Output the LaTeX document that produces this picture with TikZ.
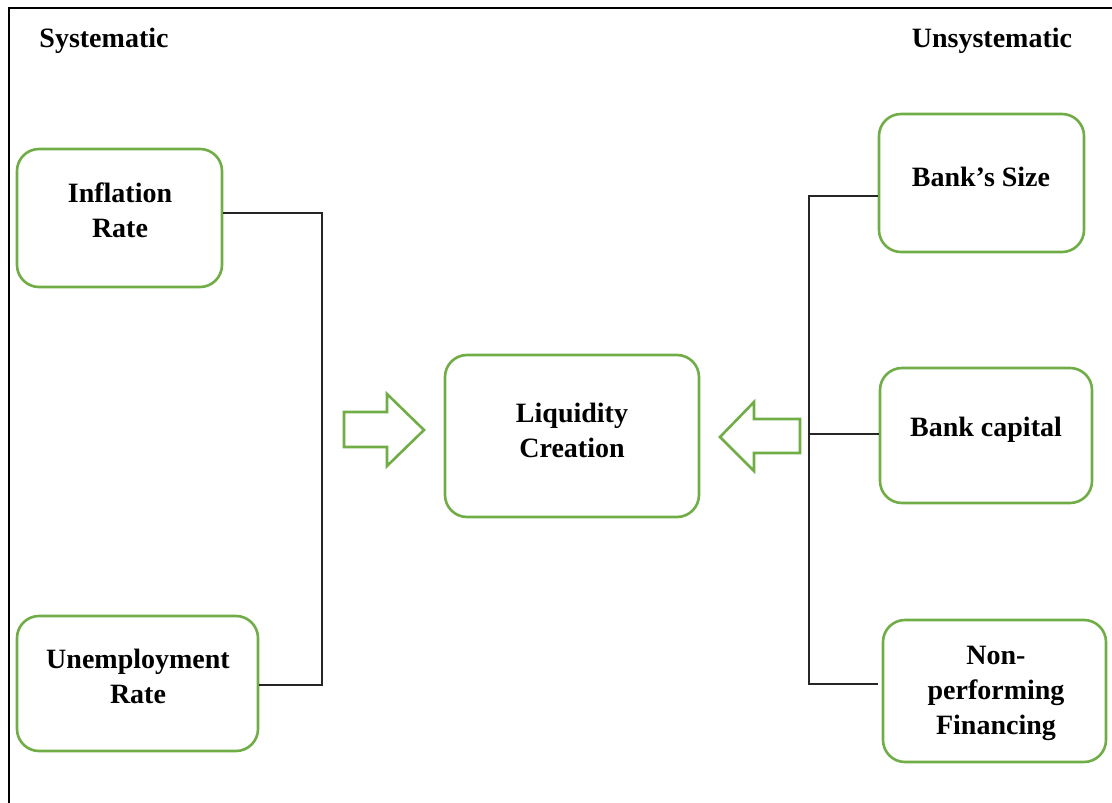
\documentclass[tikz,border=0pt]{standalone}
\usepackage{fontspec}
\setmainfont{Liberation Serif}
\definecolor{boxgreen}{RGB}{112,173,71}
\begin{document}
\begin{tikzpicture}[x=1pt,y=-1pt,
  box/.style={draw=boxgreen,line width=2.6pt,rounded corners=22pt,inner sep=0pt},
  lbl/.style={font=\fontsize{28}{35}\selectfont\bfseries,align=center,inner sep=0pt},
  conn/.style={line width=1.3pt,black!85},
  bigarrow/.style={draw=boxgreen,line width=2.6pt,fill=white,line join=miter}]
\useasboundingbox (0,0) rectangle (1112,803);
\draw[line width=2pt] (8.5,803) -- (8.5,8) -- (1112,8);

\node[lbl] (sys) at (104,41) {Systematic};
\node[lbl] (unsys) at (992,41) {Unsystematic};

\node[box,minimum width=205pt,minimum height=138pt] (inf) at (119.5,218) {};
\node[box,minimum width=241pt,minimum height=135pt] (unemp) at (137.5,683.5) {};
\node[box,minimum width=254pt,minimum height=162pt] (liq) at (572,436) {};
\node[box,minimum width=205pt,minimum height=138pt] (size) at (981.5,183) {};
\node[box,minimum width=212pt,minimum height=135pt] (cap) at (986,435.5) {};
\node[box,minimum width=223pt,minimum height=142pt] (npf) at (994.5,691) {};

\node[lbl] (tinf) at (120,210) {Inflation\\Rate};
\node[lbl] (tunemp) at (138,676) {Unemployment\\Rate};
\node[lbl] (tliq) at (572,430) {Liquidity\\Creation};
\node[lbl] (tsize) at (981,177) {Bank’s Size};
\node[lbl] (tcap) at (986,430) {Bank capital};
\node[lbl] (tnpf) at (996,693) {Non-\\performing\\Financing};

\coordinate (lt) at (322,213);
\coordinate (lb) at (322,685);
\draw[conn] (inf.east |- lt) -- (lt) -- (lb) -- (unemp.east |- lb);

\coordinate (rt) at (809,196);
\coordinate (rm) at (809,434);
\coordinate (rb) at (809,684);
\draw[conn] (size.west |- rt) -- (rt) -- (rb) -- ([xshift=-4pt]npf.west |- rb);
\draw[conn] (rm) -- (cap.west |- rm);

\draw[bigarrow] (344,412) -- (387,412) -- (387,394) -- (424,430) -- (387,466) -- (387,447) -- (344,447) -- cycle;
\draw[bigarrow] (800,419) -- (754,419) -- (754,402) -- (720,437) -- (754,471) -- (754,453) -- (800,453) -- cycle;
\end{tikzpicture}
\end{document}
